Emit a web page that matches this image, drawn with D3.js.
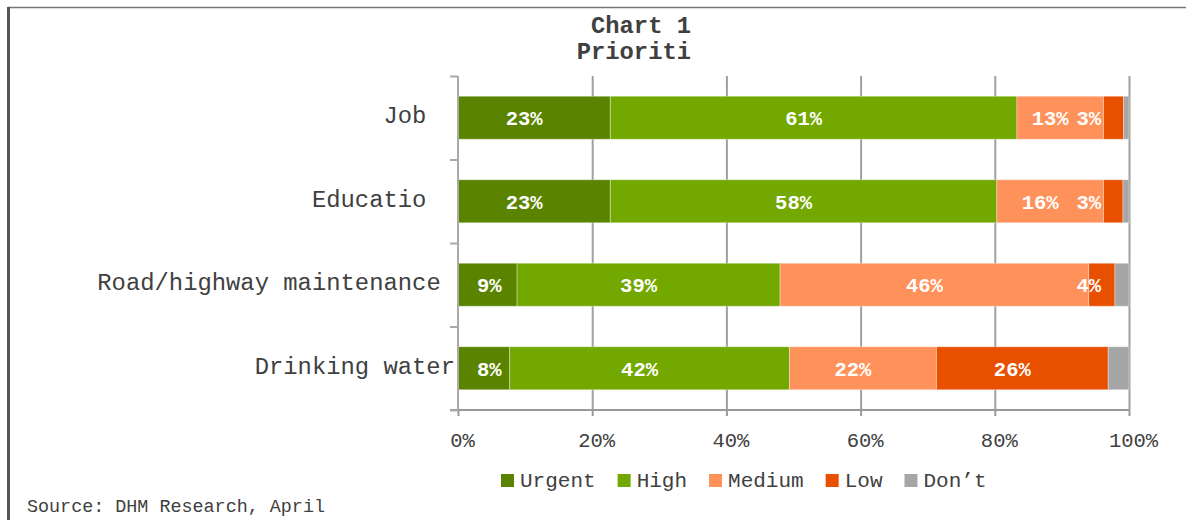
<!DOCTYPE html>
<html>
<head>
<meta charset="utf-8">
<script src="https://cdn.jsdelivr.net/npm/d3@7/dist/d3.min.js"></script>
<style>
  html, body { margin: 0; padding: 0; background: #fff; }
  svg { display: block; font-family: "Liberation Mono", "Courier New", monospace; }
</style>
</head>
<body>
<svg id="chart" width="1186" height="520"></svg>
<script>
// Priority ratings by service area (share of respondents, %)
const categories = ["Job  ", "Educatio  ", "Road/highway maintenance ", "Drinking water"];
const seriesNames = ["Urgent", "High", "Medium", "Low", "Don\u2019t"];
const urgent = [22.7, 22.7, 8.8, 7.7];
const high   = [60.6, 57.6, 39.2, 41.7];
const medium = [12.9, 15.9, 46.0, 21.9];
const low    = [3.0, 2.9, 3.9, 25.6];
const dont   = [0.8, 0.9, 2.1, 3.1];
const xTicks = [0, 20, 40, 60, 80, 100];
const titleLines = ["Chart 1", "Prioriti"];
const sourceNote = "Source: DHM Research, April";

const colors = ["#5a8400", "#72a800", "#ff925a", "#e85000", "#a6a6a6"];
const seriesValues = [urgent, high, medium, low, dont];

const svg = d3.select("#chart");
const W = 1186, H = 520;
const plot = { left: 458, right: 1129, top: 76, bottom: 410 };

// Frame lines
svg.append("line").attr("x1", 8).attr("x2", W).attr("y1", 7.5).attr("y2", 7.5)
  .attr("stroke", "#777").attr("stroke-width", 1.5);
svg.append("line").attr("x1", 8.5).attr("x2", 8.5).attr("y1", 7).attr("y2", H)
  .attr("stroke", "#555").attr("stroke-width", 3);

// Title
const title = svg.append("text").attr("text-anchor", "end")
  .attr("font-weight", "bold").attr("font-size", 23.8).attr("fill", "#404040");
titleLines.forEach((t, i) => {
  title.append("tspan").attr("x", 691).attr("y", 33 + i * 26).text(t);
});

// Scales
const x = d3.scaleLinear().domain([0, 100]).range([plot.left, plot.right]);
const y = d3.scaleBand().domain(categories).range([plot.top, plot.bottom])
  .paddingInner(0.485).paddingOuter(0.2425);

// Vertical gridlines
const grid = svg.append("g").attr("transform", `translate(0,${plot.bottom})`)
  .call(d3.axisBottom(x).tickValues(xTicks.slice(1)).tickSize(-(plot.bottom - plot.top)).tickFormat(""));
grid.select(".domain").remove();
grid.selectAll(".tick line").attr("stroke", "#a0a0a0").attr("stroke-width", 2);

// Stacked data
const table = categories.map((c, i) => {
  const row = { category: c };
  seriesNames.forEach((s, k) => row[s] = seriesValues[k][i]);
  return row;
});
const stack = d3.stack().keys(seriesNames)(table);

const layers = svg.append("g").selectAll("g").data(stack).join("g")
  .attr("fill", (d, i) => colors[i]);
layers.selectAll("rect").data(d => d).join("rect")
  .attr("x", d => x(d[0]))
  .attr("width", d => x(d[1]) - x(d[0]))
  .attr("y", d => y(d.data.category))
  .attr("height", y.bandwidth())
  .attr("stroke", "rgba(255,255,255,0.35)")
  .attr("stroke-width", 1);

// Bottom axis (value)
const xAxis = svg.append("g").attr("transform", `translate(0,${plot.bottom})`)
  .call(d3.axisBottom(x).tickValues(xTicks).tickSize(6).tickFormat(d => d + "%"));
xAxis.select(".domain").attr("stroke", "#999").attr("stroke-width", 2)
  .attr("d", `M${plot.left - 8},0H${plot.right}`);
xAxis.selectAll(".tick line").attr("stroke", "#999").attr("stroke-width", 2);
xAxis.selectAll(".tick text").attr("y", 37).attr("dy", 0).attr("dx", 4)
  .attr("font-family", "Liberation Mono, Courier New, monospace")
  .attr("font-size", 20.5).attr("fill", "#404040");

// Left axis (category boundaries)
const yBound = d3.scaleLinear().domain([0, categories.length]).range([plot.top, plot.bottom]);
const yAxis = svg.append("g").attr("transform", `translate(${plot.left},0)`)
  .call(d3.axisLeft(yBound).tickValues(d3.range(categories.length + 1)).tickSize(8).tickFormat(""));
yAxis.select(".domain").attr("stroke", "#aaa").attr("stroke-width", 2)
  .attr("d", `M0,${plot.top}V${plot.bottom}`);
yAxis.selectAll(".tick line").attr("stroke", "#aaa").attr("stroke-width", 2);

// Category labels
svg.append("g").selectAll("text").data(categories).join("text")
  .attr("x", 455)
  .attr("y", d => y(d) + y.bandwidth() / 2 - 1)
  .attr("dominant-baseline", "central")
  .attr("text-anchor", "end")
  .style("white-space", "pre")
  .attr("font-size", 23.85).attr("fill", "#404040")
  .text(d => d);

// Segment value labels (the last series is left unlabelled)
const labelData = [];
stack.forEach((layer, k) => {
  if (k === seriesNames.length - 1) return;
  layer.forEach(d => {
    const v = d[1] - d[0];
    labelData.push({ v, cx: (x(d[0]) + x(d[1])) / 2, cy: y(d.data.category) + y.bandwidth() / 2 });
  });
});
svg.append("g").selectAll("text").data(labelData).join("text")
  .attr("font-size", 20.5).attr("font-weight", "bold").attr("fill", "#fff")
  .attr("text-anchor", "middle").attr("dominant-baseline", "central")
  .text(d => Math.round(d.v) + "%")
  .each(function (d) {
    const w = this.getComputedTextLength();
    let cx = d.cx - 10;
    cx = Math.min(cx, plot.right - 28 - w / 2);
    cx = Math.max(cx, plot.left + 19 + w / 2);
    d3.select(this).attr("x", cx).attr("y", d.cy + 2);
  });

// Legend
const legend = svg.append("g").attr("transform", "translate(501,0)");
let lx = 0;
seriesNames.forEach((s, i) => {
  const g = legend.append("g").attr("transform", `translate(${lx},0)`);
  g.append("rect").attr("x", 0).attr("y", 474).attr("width", 13).attr("height", 13).attr("fill", colors[i]);
  const t = g.append("text").attr("x", 19).attr("y", 481).attr("dominant-baseline", "central")
    .attr("font-size", 21).attr("fill", "#404040").text(s);
  lx += 19 + t.node().getComputedTextLength() + 22;
});

// Source note
svg.append("text").attr("x", 27).attr("y", 507).attr("dominant-baseline", "central")
  .attr("font-size", 18.4).attr("fill", "#404040").text(sourceNote);
</script>
</body>
</html>
